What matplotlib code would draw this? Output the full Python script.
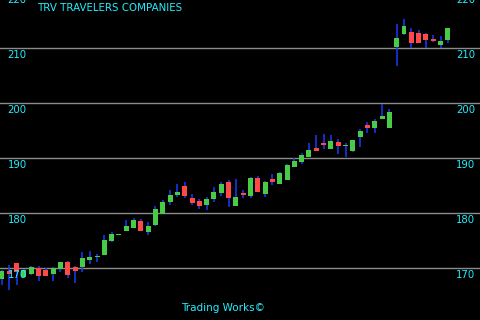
import matplotlib
matplotlib.use("Agg")
import matplotlib.pyplot as plt
import numpy as np

title = "TRV TRAVELERS COMPANIES"
footer = "Trading Works©"
yticks = [170, 180, 190, 200, 210, 220]

opens = [168.0, 169.45, 170.9, 168.4, 168.9, 170.0, 169.6, 168.9, 169.8, 171.1,
         170.2, 170.2, 171.45, 172.0, 172.4, 174.9, 176.0, 176.7, 177.3, 178.5,
         176.5, 177.8, 179.8, 182.0, 183.3, 184.9, 182.7, 182.2, 181.45, 182.5,
         183.6, 185.6, 181.3, 183.6, 183.1, 186.4, 183.45, 186.2, 185.3, 186.0,
         188.4, 189.3, 190.2, 191.8, 192.7, 191.6, 192.9, 192.2, 191.3, 193.8,
         196.0, 195.45, 197.1, 195.45, 210.2, 212.5, 212.9, 212.7, 212.5, 211.6,
         210.5, 211.45]
highs = [169.6, 170.5, 170.9, 169.8, 170.4, 170.4, 170.0, 170.2, 171.1, 171.3,
         170.4, 172.9, 173.1, 172.5, 176.0, 176.5, 176.2, 178.7, 179.1, 178.9,
         178.4, 181.3, 182.4, 184.2, 185.3, 185.6, 183.45, 182.5, 182.9, 184.7,
         185.6, 186.0, 186.2, 184.2, 186.5, 186.7, 185.8, 187.1, 187.45, 188.9,
         190.0, 190.9, 192.7, 194.2, 194.4, 194.2, 193.45, 192.7, 193.3, 195.3,
         196.5, 197.1, 199.8, 198.9, 214.4, 215.3, 213.6, 213.3, 212.7, 212.4,
         212.2, 213.6]
lows = [166.9, 166.0, 166.9, 168.2, 168.7, 167.6, 168.5, 167.6, 169.3, 168.2,
        167.3, 169.3, 170.7, 171.1, 172.4, 174.7, 176.0, 176.7, 177.3, 176.7,
        176.0, 177.6, 179.8, 181.45, 182.9, 182.7, 181.45, 180.7, 180.5, 182.0,
        183.1, 181.1, 181.3, 182.7, 182.7, 183.8, 182.9, 185.1, 185.3, 186.0,
        188.4, 188.9, 190.2, 191.3, 191.6, 191.6, 190.7, 190.2, 191.1, 192.0,
        194.5, 194.5, 197.1, 195.45, 206.7, 212.4, 210.0, 210.9, 210.0, 211.1,
        210.0, 210.9]
closes = [169.45, 169.0, 169.3, 169.6, 170.2, 168.5, 168.5, 170.0, 171.1, 168.7,
          169.45, 171.8, 172.0, 172.2, 175.1, 176.2, 176.2, 177.6, 178.7, 176.7,
          177.6, 180.7, 182.0, 183.3, 183.8, 183.1, 181.8, 181.3, 182.5, 183.8,
          185.3, 182.7, 182.9, 183.3, 186.4, 183.8, 185.6, 185.6, 187.3, 188.7,
          189.45, 190.5, 191.45, 191.3, 192.4, 193.1, 192.2, 192.4, 193.3, 194.9,
          195.45, 196.7, 197.6, 198.4, 211.8, 214.0, 210.9, 210.9, 211.45, 211.3,
          211.3, 213.6]

GREEN = "#48cc48"
RED = "#ff4848"
WICK = "#1a3cff"
TEXT = "#22eeff"
GRID = "#8c8c8c"

o = np.array(opens); h = np.array(highs); l = np.array(lows); c = np.array(closes)
x = np.arange(len(o))

fig = plt.figure(figsize=(4.8, 3.2), dpi=100, facecolor="black")
ax = fig.add_axes([0, 0, 1, 1])
ax.set_facecolor("black")
ax.set_xlim(-0.274, 65.4)
ax.set_ylim(160.55, 218.73)
for s in ax.spines.values():
    s.set_visible(False)
ax.set_xticks([]); ax.set_yticks([])

for t in yticks:
    ax.axhline(t, color=GRID, lw=1.0, zorder=1)

ax.vlines(x, l, h, color=WICK, lw=1.1, zorder=2)
up = c >= o
bottoms = np.minimum(o, c)
heights = np.maximum(np.abs(c - o), 0.2)
colors = [GREEN if u else RED for u in up]
ax.bar(x, heights, bottom=bottoms, width=0.68, color=colors, edgecolor="none", zorder=3)

for t in yticks:
    ax.text(0.036, t - 1.27, str(t), transform=ax.get_yaxis_transform(),
            ha="center", va="center", color=TEXT, fontsize=7.3, zorder=5)
    ax.text(0.97, t - 1.27, str(t), transform=ax.get_yaxis_transform(),
            ha="center", va="center", color=TEXT, fontsize=7.3, zorder=5)

ax.text(0.077, 0.99, title, transform=ax.transAxes, ha="left", va="top",
        color=TEXT, fontsize=7.4, zorder=5)
ax.text(0.465, 0.038, footer, transform=ax.transAxes, ha="center", va="center",
        color=TEXT, fontsize=7.5, zorder=5)

fig.savefig("out.png", dpi=100, facecolor="black")
